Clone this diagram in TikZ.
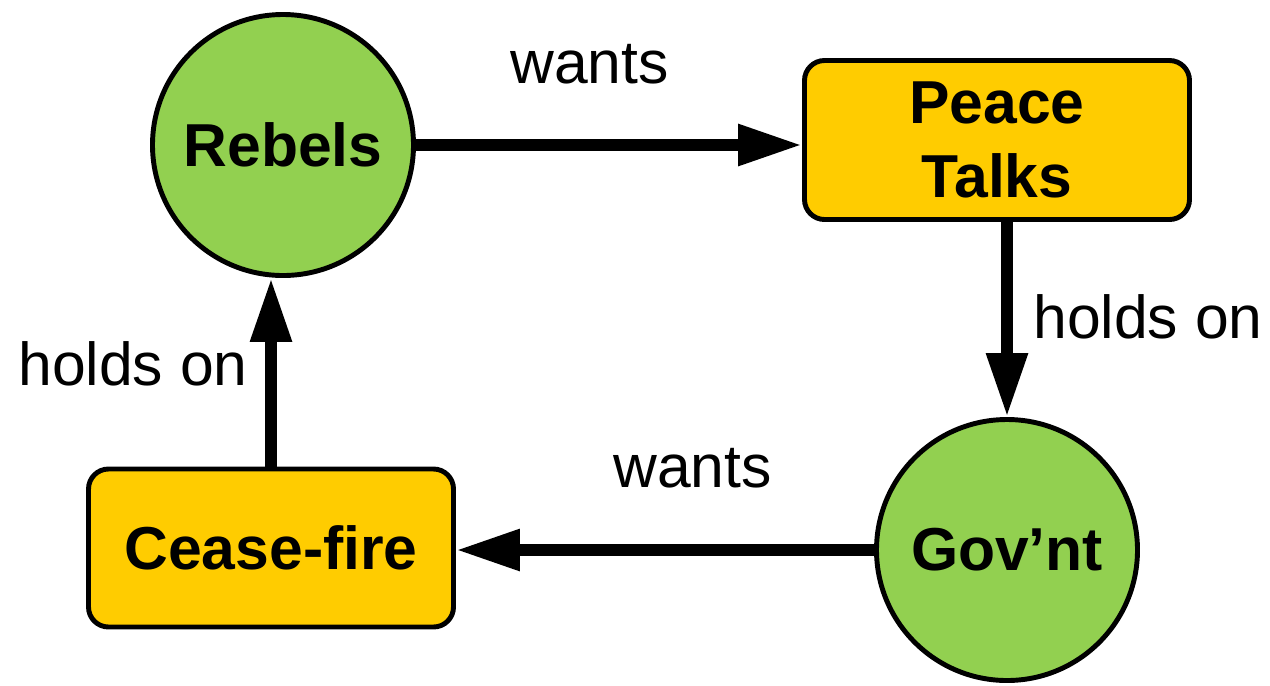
\documentclass[tikz,border=0pt]{standalone}
\usepackage{fontspec}
\setmainfont{Liberation Sans}
\usetikzlibrary{arrows.meta}
\definecolor{actorgreen}{HTML}{92D050}
\definecolor{stateyellow}{HTML}{FFCC00}
\tikzset{
  actor/.style={circle, draw=black, line width=2.8pt, fill=actorgreen,
    inner sep=0pt, minimum size=5.22cm, font=\fontsize{34.5}{36}\selectfont\bfseries},
  statebox/.style={rectangle, rounded corners=0.4cm, draw=black, line width=2.8pt,
    fill=stateyellow, inner sep=0pt, align=center,
    font=\fontsize{34.5}{42}\selectfont\bfseries},
  link/.style={line width=6.8pt, -{Triangle[length=1.28cm, width=0.78cm]}},
  rel/.style={inner sep=0pt, font=\fontsize{34.5}{36}\selectfont}
}
\begin{document}
\begin{tikzpicture}
\useasboundingbox (0,0) rectangle (25.4,-13.7);

% actors and states
\node[actor] (rebels) at (5.66,-2.90) {Rebels};
\node[actor] (govnt) at (20.14,-11.0) {Gov’nt};
\node[statebox, minimum width=7.7cm, minimum height=3.18cm] (talks) at (19.94,-2.8) {Peace\\Talks};
\node[statebox, minimum width=7.3cm, minimum height=3.16cm] (cease) at (5.42,-10.96) {Cease-fire};

% relations
\draw[link] (rebels.east) -- (rebels.east -| talks.west);
\draw[link] (talks.south -| govnt.north) -- (govnt.north);
\draw[link] (govnt.west) -- (govnt.west -| cease.east);
\draw[link] (cease.north) -- (cease.north |- rebels.south);

% relation labels
\node[rel, anchor=base west] (w1) at (10.2,-1.66) {wants};
\node[rel, anchor=base west] (h1) at (20.66,-6.76) {holds on};
\node[rel, anchor=base west] (w2) at (12.26,-9.74) {wants};
\node[rel, anchor=base west] (h2) at (0.36,-7.70) {holds on};
\end{tikzpicture}
\end{document}
